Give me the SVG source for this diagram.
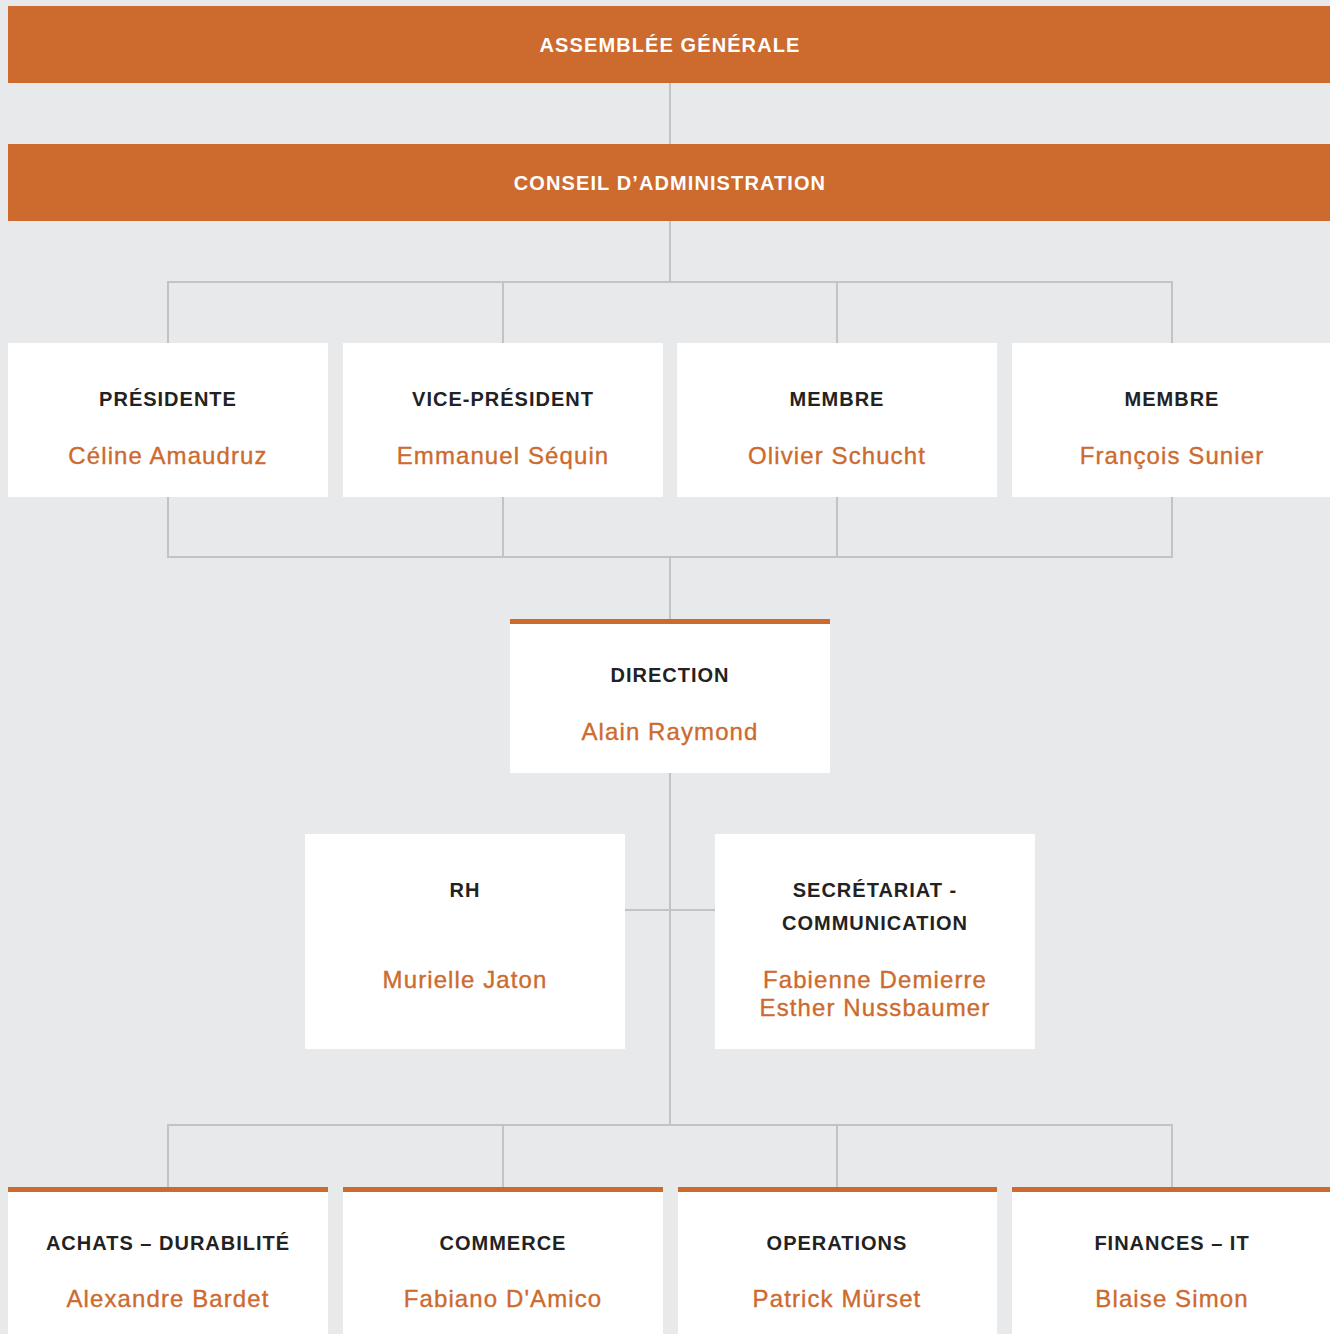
<svg xmlns="http://www.w3.org/2000/svg" width="1330" height="1334" viewBox="0 0 1330 1334">
<defs>
<style>
.bg{fill:#e8e9eb}
.banner{fill:#cd6a2e}
.box{fill:#ffffff}
.accent{fill:#cd6a2e}
.ln{stroke:#c2c3c5;stroke-width:2;fill:none}
.bt{font-family:"Liberation Sans",Arial,sans-serif;font-weight:bold;font-size:20px;fill:#ffffff;text-anchor:middle;letter-spacing:1.1px}
.t{font-family:"Liberation Sans",Arial,sans-serif;font-weight:bold;font-size:20px;fill:#222222;text-anchor:middle;letter-spacing:1px}
.n{font-family:"Liberation Sans",Arial,sans-serif;font-size:24px;fill:#cd6a2e;stroke:#cd6a2e;stroke-width:0.35;text-anchor:middle;letter-spacing:1.1px}
</style>
</defs>
<rect class="bg" x="0" y="0" width="1330" height="1334"/>
<g id="connectors">
<path class="ln" d="M670 83V144M670 221V282M168 343V282H1172V343M503 282V343M837 282V343"/>
<path class="ln" d="M168 497V557H1172V497M503 497V557M837 497V557M670 557V620"/>
<path class="ln" d="M670 773V1125M625 910H715M168 1187V1125H1172V1187M503 1125V1187M837 1125V1187"/>
</g>
<g id="assemblee">
<rect class="banner" x="8" y="6" width="1322" height="77"/>
<text class="bt" x="670" y="52">ASSEMBLÉE GÉNÉRALE</text>
</g>
<g id="conseil">
<rect class="banner" x="8" y="144" width="1322" height="77"/>
<text class="bt" x="670" y="190">CONSEIL D’ADMINISTRATION</text>
</g>
<g id="presidente">
<rect class="box" x="8" y="343" width="320" height="154"/>
<text class="t" x="168" y="406">PRÉSIDENTE</text>
<text class="n" x="168" y="464">Céline Amaudruz</text>
</g>
<g id="vice-president">
<rect class="box" x="343" y="343" width="320" height="154"/>
<text class="t" x="503" y="406">VICE-PRÉSIDENT</text>
<text class="n" x="503" y="464">Emmanuel Séquin</text>
</g>
<g id="membre1">
<rect class="box" x="677" y="343" width="320" height="154"/>
<text class="t" x="837" y="406">MEMBRE</text>
<text class="n" x="837" y="464">Olivier Schucht</text>
</g>
<g id="membre2">
<rect class="box" x="1012" y="343" width="320" height="154"/>
<text class="t" x="1172" y="406">MEMBRE</text>
<text class="n" x="1172" y="464">François Sunier</text>
</g>
<g id="direction">
<rect class="box" x="510" y="619" width="320" height="154"/>
<rect class="accent" x="510" y="619" width="320" height="5"/>
<text class="t" x="670" y="682">DIRECTION</text>
<text class="n" x="670" y="740">Alain Raymond</text>
</g>
<g id="rh">
<rect class="box" x="305" y="834" width="320" height="215"/>
<text class="t" x="465" y="897">RH</text>
<text class="n" x="465" y="988">Murielle Jaton</text>
</g>
<g id="secretariat">
<rect class="box" x="715" y="834" width="320" height="215"/>
<text class="t" x="875" y="897">SECRÉTARIAT -</text>
<text class="t" x="875" y="930">COMMUNICATION</text>
<text class="n" x="875" y="988">Fabienne Demierre</text>
<text class="n" x="875" y="1016">Esther Nussbaumer</text>
</g>
<g id="achats">
<rect class="box" x="8" y="1187" width="320" height="147"/>
<rect class="accent" x="8" y="1187" width="320" height="5"/>
<text class="t" x="168" y="1250">ACHATS – DURABILITÉ</text>
<text class="n" x="168" y="1307">Alexandre Bardet</text>
</g>
<g id="commerce">
<rect class="box" x="343" y="1187" width="320" height="147"/>
<rect class="accent" x="343" y="1187" width="320" height="5"/>
<text class="t" x="503" y="1250">COMMERCE</text>
<text class="n" x="503" y="1307">Fabiano D'Amico</text>
</g>
<g id="operations">
<rect class="box" x="678" y="1187" width="319" height="147"/>
<rect class="accent" x="678" y="1187" width="319" height="5"/>
<text class="t" x="837" y="1250">OPERATIONS</text>
<text class="n" x="837" y="1307">Patrick Mürset</text>
</g>
<g id="finances">
<rect class="box" x="1012" y="1187" width="320" height="147"/>
<rect class="accent" x="1012" y="1187" width="320" height="5"/>
<text class="t" x="1172" y="1250">FINANCES – IT</text>
<text class="n" x="1172" y="1307">Blaise Simon</text>
</g>
</svg>
